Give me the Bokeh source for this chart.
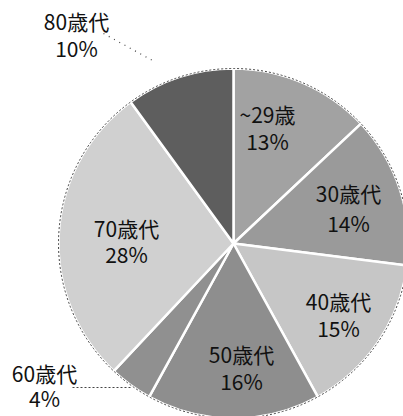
import math
from bokeh.plotting import figure
from bokeh.models import Range1d, ColumnDataSource
from bokeh.core.properties import value
from bokeh.embed import file_html
from bokeh.resources import INLINE

categories = ["~29歳", "30歳代", "40歳代", "50歳代", "60歳代", "70歳代", "80歳代"]
percents = [13, 14, 15, 16, 4, 28, 10]
colors = ["#a2a2a2", "#9a9a9a", "#c6c6c6", "#8e8e8e", "#909090", "#d0d0d0", "#5e5e5e"]

# label layout (page pixel positions of the two text lines)
label_x = [267, 348, 338, 241, 44, 126, 76]
label_y1 = [113, 192, 300, 353, 372, 227, 20]
label_y2 = [140, 222, 327, 380, 397, 253, 47]

W, H = 403, 416
CX, CY, R = 233, 243, 175

def py(y):
    return H - y

p = figure(width=W, height=H, output_backend="svg", toolbar_location=None,
           x_range=Range1d(0, W), y_range=Range1d(0, H),
           min_border=0)
p.axis.visible = False
p.grid.visible = False
p.outline_line_color = None
p.background_fill_color = "white"
p.border_fill_color = "white"

total = sum(percents)
starts, ends = [], []
cum = 0.0
for v in percents:
    a0 = cum / total * 2 * math.pi
    cum += v
    a1 = cum / total * 2 * math.pi
    starts.append(math.pi / 2 - a0)
    ends.append(math.pi / 2 - a1)

src = ColumnDataSource(dict(start=starts, end=ends, color=colors,
                            x=[CX] * len(percents), y=[py(CY)] * len(percents)))
p.wedge(x="x", y="y", radius=R, start_angle="start", end_angle="end",
        direction="clock", fill_color="color", line_color="white", line_width=2.5,
        source=src)
p.circle(x=[CX], y=[py(CY)], radius=R, fill_color=None, line_color="#444444",
         line_width=1, line_dash="2 2")

# leader lines (dotted)
p.line(x=[103, 152], y=[py(33), py(60)], line_color="#444444", line_width=1.2, line_dash="1 5")
p.line(x=[72, 130], y=[py(387), py(387)], line_color="#444444", line_width=1.2, line_dash="2 2")

lines1 = [c for c in categories]
lines2 = [f"{v}%" for v in percents]
tsrc = ColumnDataSource(dict(x=label_x, y1=[py(v) for v in label_y1],
                             y2=[py(v) for v in label_y2], t1=lines1, t2=lines2))
for ycol, tcol in (("y1", "t1"), ("y2", "t2")):
    p.text(x="x", y=ycol, text=tcol, source=tsrc, text_align="center",
           text_baseline="middle", text_font=value("Noto Sans CJK JP"),
           text_font_size="21px", text_color="#111111")

open("out.html", "w").write(file_html(p, INLINE))
